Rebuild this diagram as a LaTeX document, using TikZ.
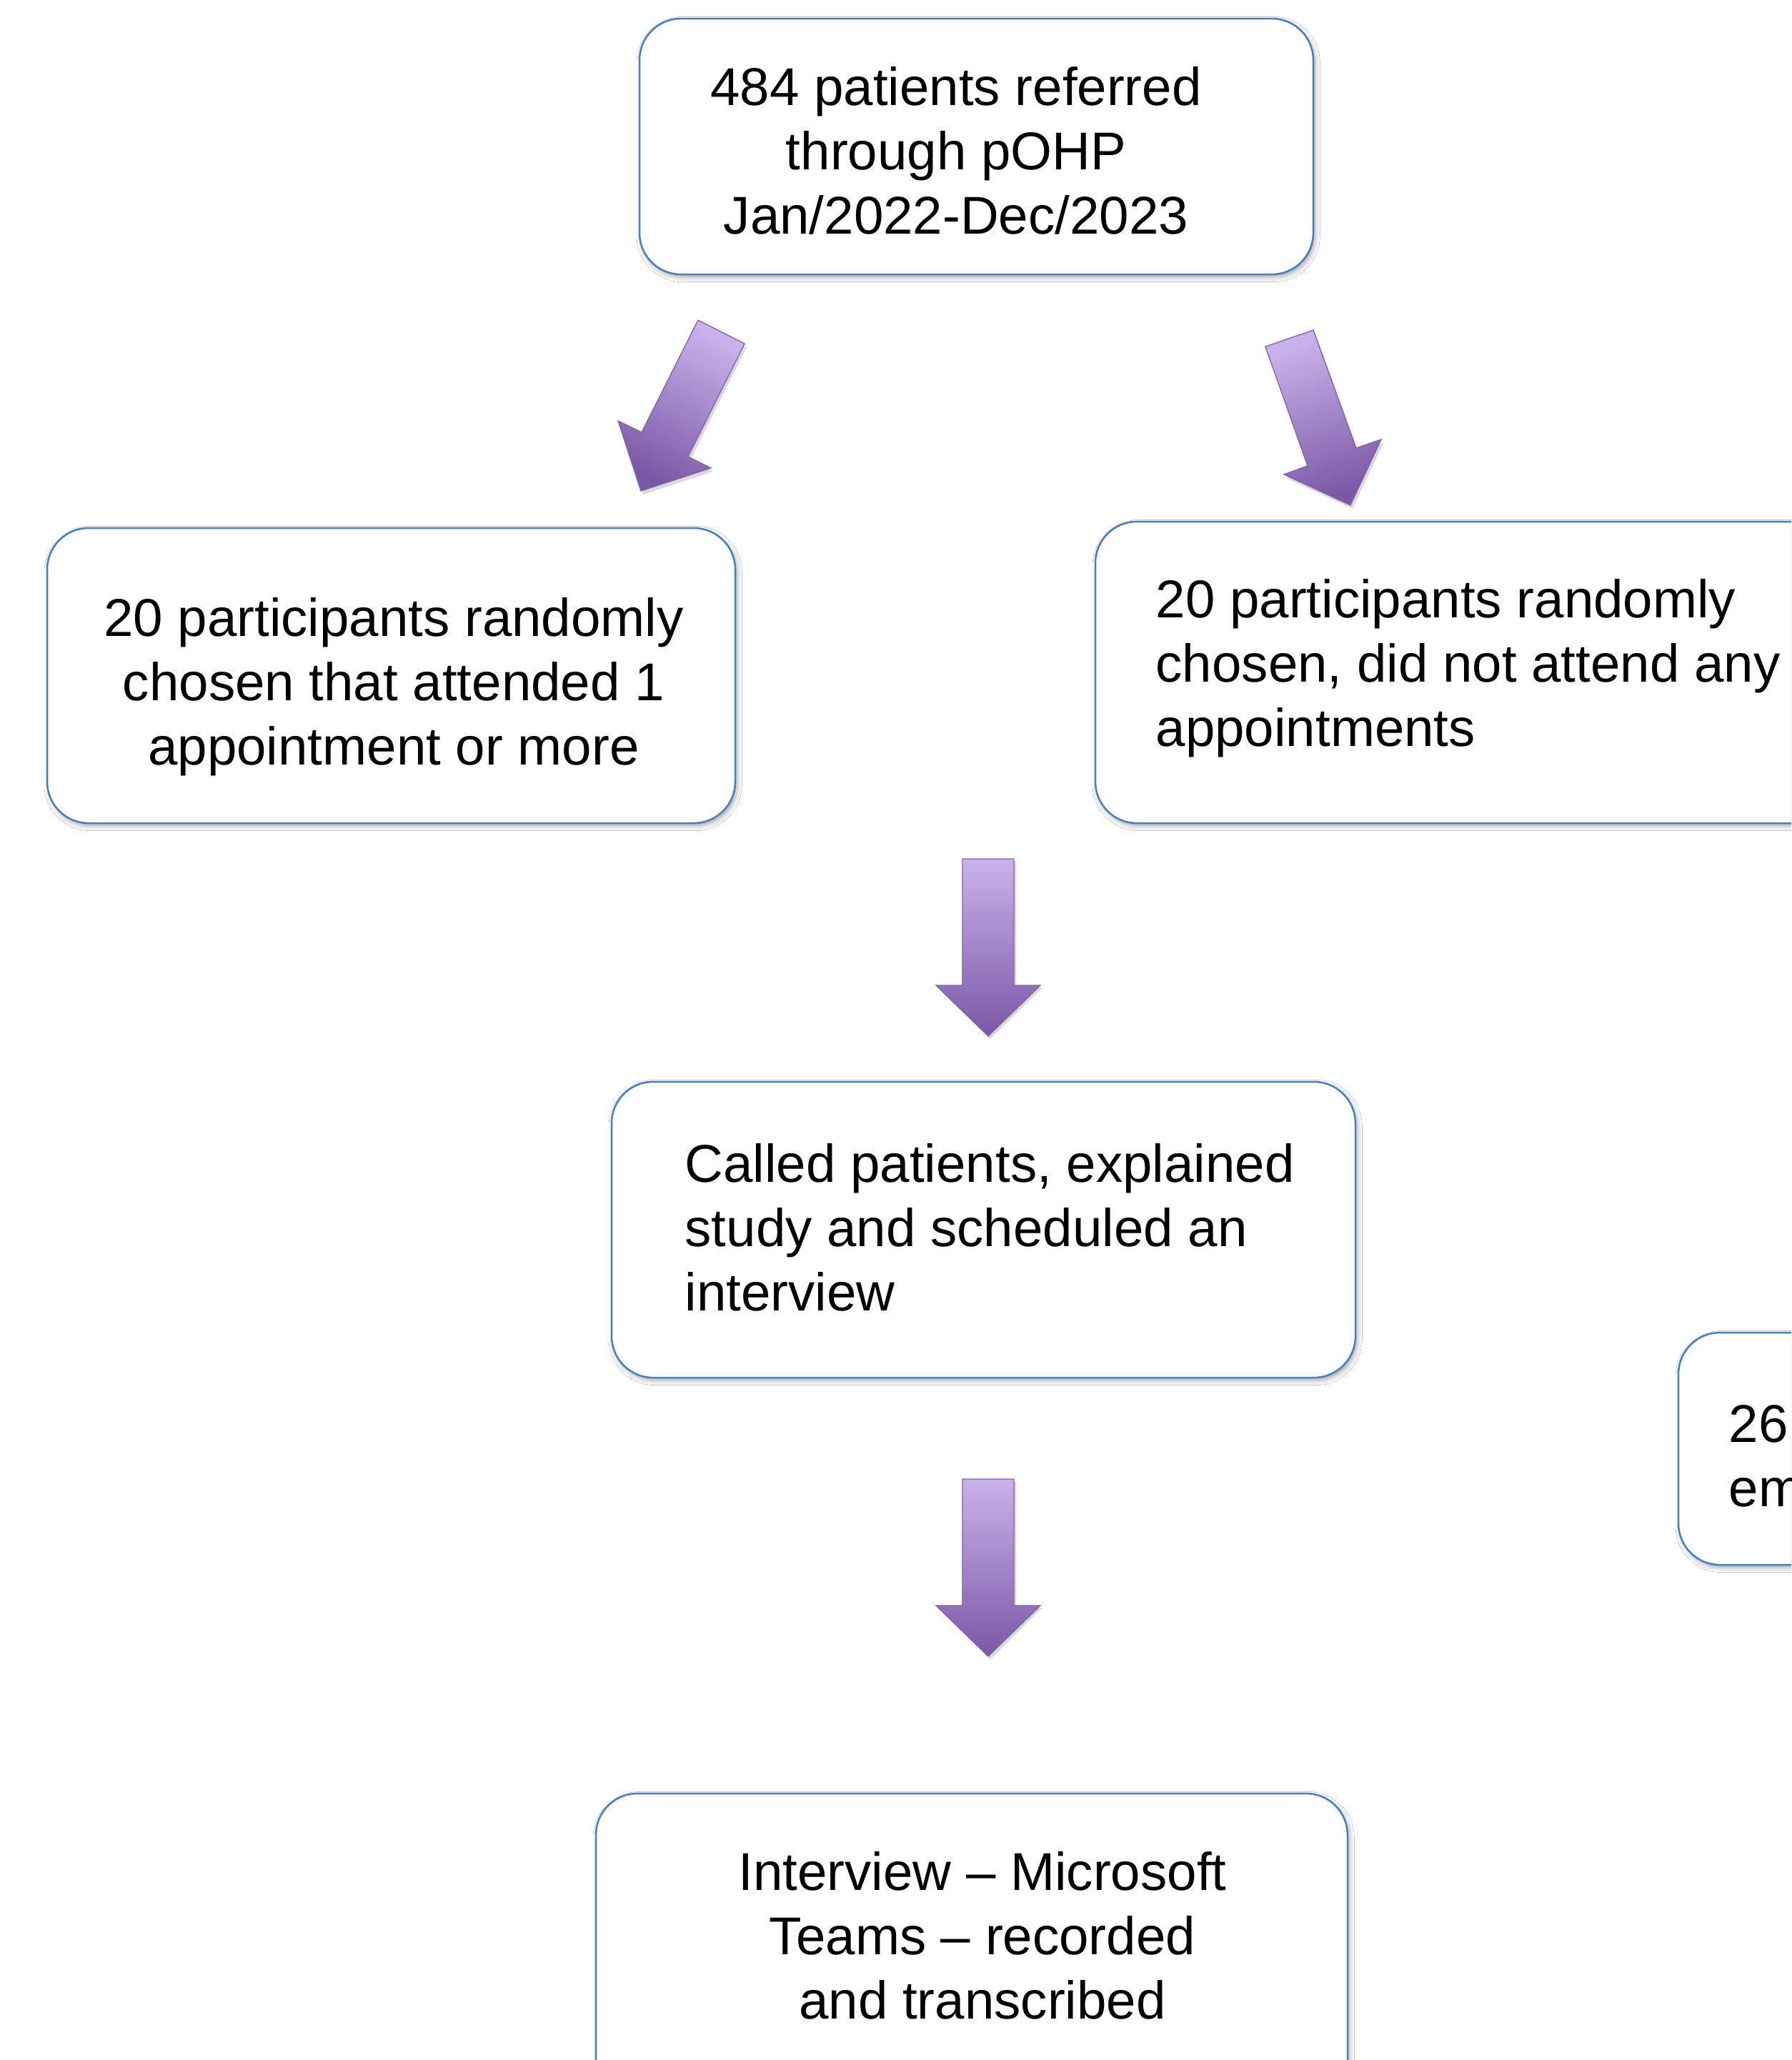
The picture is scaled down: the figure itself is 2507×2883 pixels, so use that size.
\documentclass[tikz,border=0pt]{standalone}
\usepackage{fontspec}
\setmainfont{Liberation Sans}
\usetikzlibrary{fit,shadows.blur}
\definecolor{boxblue}{HTML}{4A7EBB}
\definecolor{arlight}{HTML}{C9B2EC}
\definecolor{ardark}{HTML}{7B58A6}
\definecolor{aredge}{HTML}{7F62A8}
\tikzset{
  box/.style={draw=boxblue, line width=0.75pt, fill=white, rounded corners=17.4pt, inner sep=0pt,
    blur shadow={shadow xshift=0.8pt, shadow yshift=-1.2pt, shadow blur radius=2pt, shadow opacity=35}},
  txt/.style={inner sep=0pt, font=\fontsize{22.35}{27}\selectfont, text=black},
  blockarrow/.style={draw=aredge, line width=0.4pt, top color=arlight, bottom color=ardark},
  arrowshadow/.style={fill=black, opacity=0.15},
}
\begin{document}
\begin{tikzpicture}[x=0.3pt, y=-0.3pt]
\clip (0,0) rectangle (2507,2883);
\fill[white] (0,0) rectangle (2507,2883);

% boxes
\node[box, fit={(895,26) (1838,384)}] (b1) {};
\node[box, fit={(66,739) (1029,1152)}] (b2) {};
\node[box, fit={(1533,730) (2580,1152)}] (b3) {};
\node[box, fit={(856,1514) (1897,1928)}] (b4) {};
\node[box, fit={(2349,1865) (2620,2190)}] (b5) {};
\node[box, fit={(834,2510) (1886,2960)}] (b6) {};

% texts
\node[txt, align=center] (t1) at (1338,211) {484 patients referred\\through pOHP\\Jan/2022-Dec/2023};
\node[txt, align=center] (t2) at (551,961) {20 participants randomly\\chosen that attended 1\\appointment or more};
\node[txt, align=left, anchor=west] (t3) at (1617,935) {20 participants randomly\\chosen, did not attend any\\appointments};
\node[txt, align=left, anchor=west] (t4) at (958,1718) {Called patients, explained\\study and scheduled an\\interview};
\node[txt, align=left, anchor=west] (t5) at (2419,2038) {26\\em};
\node[txt, align=center] (t6) at (1375,2709) {Interview – Microsoft\\Teams – recorded\\and transcribed};

% block arrows: left diagonal
\fill[arrowshadow] ([shift={(3,5)}]977,448) -- ++(65,33) -- ([shift={(3,5)}]963,639) -- ([shift={(3,5)}]995,655) -- ([shift={(3,5)}]897,687) -- ([shift={(3,5)}]865,589) -- ([shift={(3,5)}]898,605) -- cycle;
\path[blockarrow, shading angle=-27] (977,448) -- (1042,481) -- (963,639) -- (995,655) -- (897,687) -- (865,589) -- (898,605) -- cycle;

% right diagonal
\fill[arrowshadow] ([shift={(3,5)}]1771,485) -- ([shift={(3,5)}]1838,462) -- ([shift={(3,5)}]1898,627) -- ([shift={(3,5)}]1933,615) -- ([shift={(3,5)}]1890,707) -- ([shift={(3,5)}]1797,664) -- ([shift={(3,5)}]1830,652) -- cycle;
\path[blockarrow, shading angle=20] (1771,485) -- (1838,462) -- (1898,627) -- (1933,615) -- (1890,707) -- (1797,664) -- (1830,652) -- cycle;

% vertical arrows
\foreach \dy in {0,868}{
  \fill[arrowshadow] (1350,1205+\dy) -- (1422,1205+\dy) -- (1422,1382+\dy) -- (1459,1382+\dy) -- (1386,1454+\dy) -- (1313,1382+\dy) -- (1350,1382+\dy) -- cycle;
  \path[blockarrow] (1347,1202+\dy) -- (1419,1202+\dy) -- (1419,1379+\dy) -- (1456,1379+\dy) -- (1383,1450+\dy) -- (1310,1379+\dy) -- (1347,1379+\dy) -- cycle;
}
\end{tikzpicture}
\end{document}
